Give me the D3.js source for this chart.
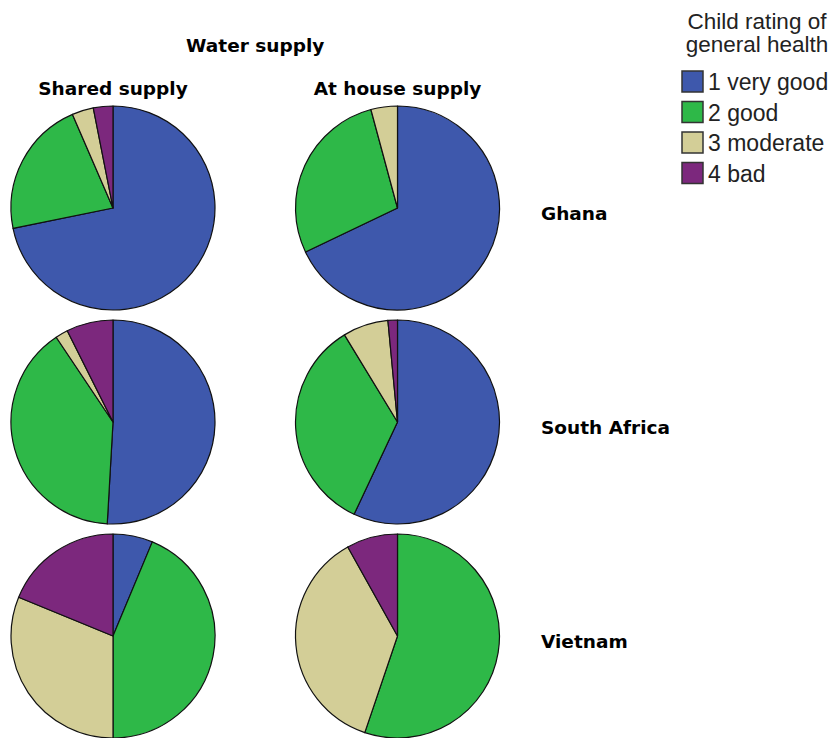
<!DOCTYPE html>
<html>
<head>
<meta charset="utf-8">
<script src="https://cdn.jsdelivr.net/npm/d3@7"></script>
<style>
  body { margin: 0; background: #fff; }
  .head { font-family: "DejaVu Sans", Verdana, sans-serif; font-weight: bold; font-size: 18.5px; fill: #000; }
  .leg { font-family: "Liberation Sans", Arial, sans-serif; font-size: 22.5px; fill: #222; }
  .item text { font-size: 23px; }
</style>
</head>
<body>
<div id="chart"></div>
<script>
// values, percent of children per rating
const ratings = ["1 very good", "2 good", "3 moderate", "4 bad"];
const colors = ["#3E58AC", "#2EB848", "#D3CE97", "#7C287D"];
const supplies = ["Shared supply", "At house supply"];
const countries = ["Ghana", "South Africa", "Vietnam"];

//          [shared supply],            [at house supply]
const ghana = [[71.8, 21.7, 3.4, 3.1], [67.9, 27.9, 4.2, 0]];
const southAfrica = [[50.9, 39.7, 2.0, 7.4], [57.0, 34.3, 7.2, 1.5]];
const vietnam = [[6.3, 43.7, 31.2, 18.8], [0, 55.2, 36.7, 8.1]];

const byCountry = [ghana, southAfrica, vietnam];

const width = 835, height = 738, radius = 102;

const svg = d3.select("#chart").append("svg")
    .attr("width", width)
    .attr("height", height);

let x = d3.scalePoint().domain(supplies).range([113, 397.5]);
let y = d3.scalePoint().domain(countries).range([208, 636]);
let color = d3.scaleOrdinal().domain(ratings).range(colors);

let pie = d3.pie().sort(null).value(d => d.v);
let arc = d3.arc().innerRadius(0).outerRadius(radius);

// headers
svg.append("text")
    .attr("class", "head")
    .attr("x", (x(supplies[0]) + x(supplies[1])) / 2)
    .attr("y", 52)
    .attr("text-anchor", "middle")
    .text("Water supply");

svg.selectAll(".colhead")
    .data(supplies)
    .enter().append("text")
    .attr("class", "head colhead")
    .attr("x", d => x(d))
    .attr("y", 95)
    .attr("text-anchor", "middle")
    .text(d => d);

svg.selectAll(".rowhead")
    .data(countries)
    .enter().append("text")
    .attr("class", "head rowhead")
    .attr("x", 541)
    .attr("y", d => y(d) + 12)
    .text(d => d);

// pies
countries.forEach((c, i) => {
    supplies.forEach((s, j) => {
        let vals = byCountry[i][j].map((v, k) => ({r: ratings[k], v: v})).filter(d => d.v > 0);
        svg.append("g")
            .attr("transform", "translate(" + x(s) + "," + y(c) + ")")
            .selectAll("path")
            .data(pie(vals))
            .enter().append("path")
            .attr("d", arc)
            .style("fill", d => color(d.data.r))
            .style("stroke", "#111")
            .style("stroke-width", 1.2)
            .style("stroke-linejoin", "round");
    });
});

// legend
let legend = svg.append("g").attr("transform", "translate(757,0)");
legend.selectAll(".ltitle")
    .data(["Child rating of", "general health"])
    .enter().append("text")
    .attr("class", "leg ltitle")
    .attr("x", 0)
    .attr("y", (d, i) => 29 + i * 23)
    .attr("text-anchor", "middle")
    .text(d => d);

let items = legend.selectAll(".item")
    .data(ratings)
    .enter().append("g")
    .attr("class", "item")
    .attr("transform", (d, i) => "translate(-75," + (71 + i * 30.5) + ")");

items.append("rect")
    .attr("width", 21)
    .attr("height", 21)
    .style("fill", d => color(d))
    .style("stroke", "#333")
    .style("stroke-width", 1.5);

items.append("text")
    .attr("class", "leg")
    .attr("x", 26)
    .attr("y", 19)
    .text(d => d);
</script>
</body>
</html>
